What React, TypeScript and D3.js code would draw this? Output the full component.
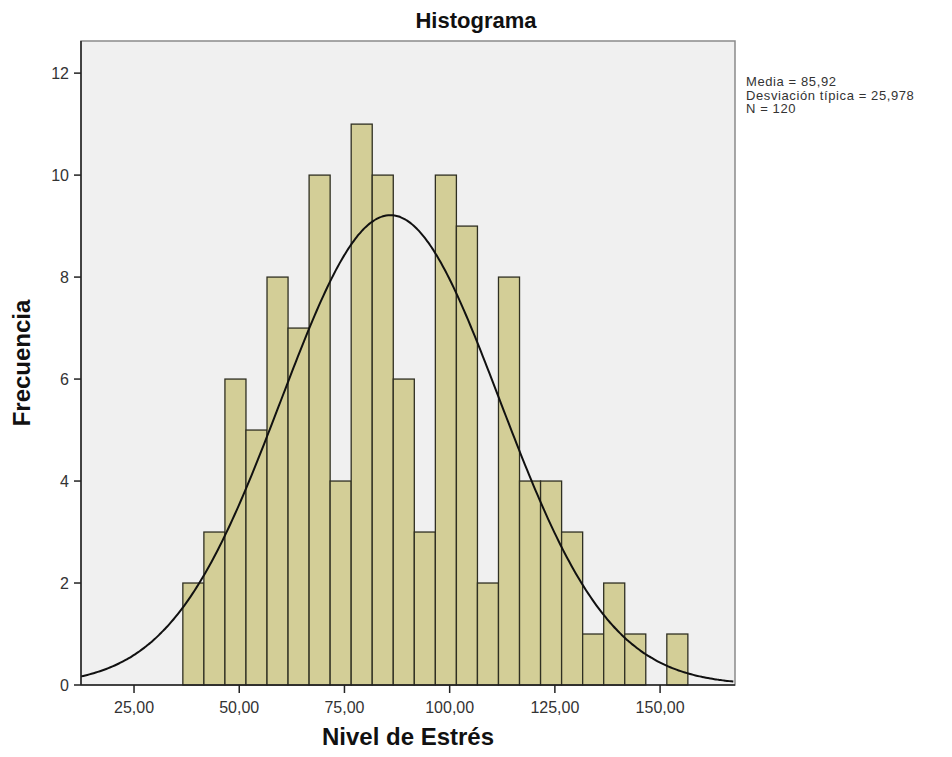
import { useEffect, useRef } from "react";
import * as d3 from "d3";

// frecuencias por intervalo (ancho 5, desde 36,6)
const counts = [2, 3, 6, 5, 8, 7, 10, 4, 11, 10, 6, 3, 10, 9, 2, 8, 4, 4, 3, 1, 2, 1, 0, 1];
const binStart = 36.6;
const binWidth = 5;
const xTicks = [25, 50, 75, 100, 125, 150];
const yTicks = [0, 2, 4, 6, 8, 10, 12];
const stats = { media: 85.92, sd: 25.978, n: 120 };
const legendLines = ["Media = 85,92", "Desviación típica = 25,978", "N = 120"];

const W = 952;
const H = 757;
const plot = { left: 81, right: 735, top: 41, bottom: 685 };
const font = "'Liberation Sans', Arial, sans-serif";
const fmt = (v: number) => v.toFixed(2).replace(".", ",");

function App() {
    const svgRef = useRef<SVGSVGElement>(null);

    useEffect(() => {
        document.body.style.margin = "0";
        const svg = d3.select(svgRef.current);
        svg.selectAll("*").remove();

        const x = d3.scaleLinear().domain([12.4, 167.8]).range([plot.left, plot.right]);
        const y = d3.scaleLinear().domain([0, 12.63]).range([plot.bottom, plot.top]);

        // fondo del area del grafico
        svg.append("rect")
            .attr("x", plot.left)
            .attr("y", plot.top)
            .attr("width", plot.right - plot.left)
            .attr("height", plot.bottom - plot.top)
            .attr("fill", "#f0f0f0")
            .attr("stroke", "#8a8a8a")
            .attr("stroke-width", 1.5);

        // barras
        const bins = counts.map((c, i) => ({ x0: binStart + i * binWidth, x1: binStart + (i + 1) * binWidth, c }));
        svg.append("g")
            .selectAll("rect")
            .data(bins.filter((d) => d.c > 0))
            .enter()
            .append("rect")
            .attr("x", (d) => x(d.x0))
            .attr("y", (d) => y(d.c))
            .attr("width", (d) => x(d.x1) - x(d.x0))
            .attr("height", (d) => y(0) - y(d.c))
            .attr("fill", "#d3ce97")
            .attr("stroke", "#2f2f22")
            .attr("stroke-width", 1.3);

        // curva normal
        const scale = (stats.n * binWidth) / (stats.sd * Math.sqrt(2 * Math.PI));
        const xs = d3.range(12.4, 167.81, 0.5);
        const line = d3
            .line<number>()
            .x((v) => x(v))
            .y((v) => y(scale * Math.exp(-0.5 * ((v - stats.media) / stats.sd) ** 2)))
            .curve(d3.curveBasis);
        svg.append("path")
            .datum(xs)
            .attr("d", line)
            .attr("fill", "none")
            .attr("stroke", "#111")
            .attr("stroke-width", 2);

        // ejes
        const axisColor = "#222";
        svg.append("line")
            .attr("x1", plot.left).attr("x2", plot.left)
            .attr("y1", plot.top).attr("y2", plot.bottom)
            .attr("stroke", axisColor).attr("stroke-width", 1.5);
        svg.append("line")
            .attr("x1", plot.left).attr("x2", plot.right)
            .attr("y1", plot.bottom).attr("y2", plot.bottom)
            .attr("stroke", axisColor).attr("stroke-width", 1.5);

        const yg = svg.append("g");
        yg.selectAll("line")
            .data(yTicks)
            .enter()
            .append("line")
            .attr("x1", plot.left - 7).attr("x2", plot.left)
            .attr("y1", (d) => y(d)).attr("y2", (d) => y(d))
            .attr("stroke", axisColor).attr("stroke-width", 1.5);
        yg.selectAll("text")
            .data(yTicks)
            .enter()
            .append("text")
            .attr("x", plot.left - 12)
            .attr("y", (d) => y(d))
            .attr("dy", "0.35em")
            .attr("text-anchor", "end")
            .attr("font-family", font)
            .attr("font-size", 16)
            .attr("fill", "#333")
            .text((d) => d);

        const xg = svg.append("g");
        xg.selectAll("line")
            .data(xTicks)
            .enter()
            .append("line")
            .attr("x1", (d) => x(d)).attr("x2", (d) => x(d))
            .attr("y1", plot.bottom).attr("y2", plot.bottom + 8)
            .attr("stroke", axisColor).attr("stroke-width", 1.5);
        xg.selectAll("text")
            .data(xTicks)
            .enter()
            .append("text")
            .attr("x", (d) => x(d))
            .attr("y", 713)
            .attr("text-anchor", "middle")
            .attr("font-family", font)
            .attr("font-size", 16)
            .attr("fill", "#333")
            .text((d) => fmt(d));

        // titulos
        svg.append("text")
            .attr("x", 476).attr("y", 28)
            .attr("text-anchor", "middle")
            .attr("font-family", font).attr("font-size", 22).attr("font-weight", "bold")
            .attr("fill", "#111")
            .text("Histograma");
        svg.append("text")
            .attr("x", (plot.left + plot.right) / 2).attr("y", 745)
            .attr("text-anchor", "middle")
            .attr("font-family", font).attr("font-size", 24).attr("font-weight", "bold")
            .attr("fill", "#111")
            .text("Nivel de Estrés");
        svg.append("text")
            .attr("transform", "translate(30, 363) rotate(-90)")
            .attr("text-anchor", "middle")
            .attr("font-family", font).attr("font-size", 24).attr("font-weight", "bold")
            .attr("fill", "#111")
            .text("Frecuencia");

        // leyenda
        svg.append("g")
            .selectAll("text")
            .data(legendLines)
            .enter()
            .append("text")
            .attr("x", 746)
            .attr("y", (d, i) => 86 + i * 13.5)
            .attr("font-family", font)
            .attr("font-size", 13)
            .attr("letter-spacing", 0.6)
            .attr("fill", "#333")
            .text((d) => d);
    }, []);

    return <svg ref={svgRef} width={W} height={H} style={{ display: "block", background: "#fff" }}></svg>;
}

export default App;
